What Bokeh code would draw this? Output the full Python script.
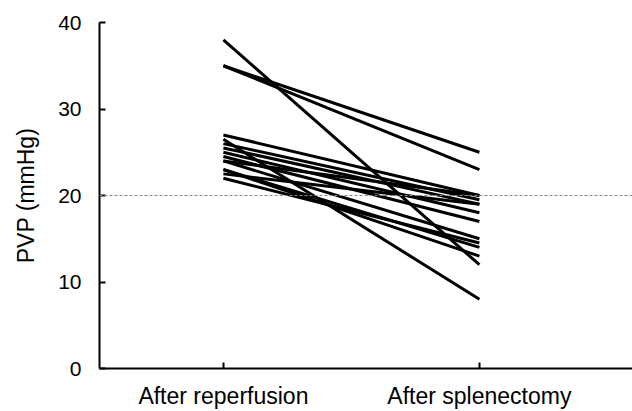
from bokeh.plotting import figure
from bokeh.models import Span, FixedTicker, Range1d, ColumnDataSource
from bokeh.embed import file_html
from bokeh.resources import INLINE

categories = ["After reperfusion", "After splenectomy"]
cat_pos = [1, 2]
ticks_y = [0, 10, 20, 30, 40]
reference_level = 20

after_reperfusion = [38, 35, 35, 27, 26.5, 26, 25.5, 25, 24.5, 24, 24, 23, 23, 22.5, 22]
after_splenectomy = [12, 25, 23, 20, 8, 19.5, 19, 18, 17, 15, 20, 14, 13, 19, 14.5]

xs = [[cat_pos[0], cat_pos[1]] for _ in after_reperfusion]
ys = [[a, b] for a, b in zip(after_reperfusion, after_splenectomy)]
src = ColumnDataSource(dict(xs=xs, ys=ys))

p = figure(width=632, height=411, output_backend="svg", toolbar_location=None,
           x_range=Range1d(0.516, 2.598), y_range=Range1d(0, 40),
           min_border_left=99, min_border_right=0, min_border_top=22, min_border_bottom=43)
p.outline_line_color = None
p.xgrid.visible = False
p.ygrid.visible = False

p.add_layout(Span(location=reference_level, dimension="width", line_color="#888888",
                  line_width=1, line_dash="3 2"))

p.multi_line("xs", "ys", source=src, line_color="black", line_width=3)

font = "Liberation Sans"
for ax in (p.xaxis[0], p.yaxis[0]):
    ax.axis_line_width = 2
    ax.axis_line_color = "black"
    ax.major_tick_line_width = 2
    ax.major_tick_in = 6
    ax.major_tick_out = 0
    ax.minor_tick_line_color = None
    ax.major_label_text_font = font
    ax.major_label_text_color = "black"

p.xaxis.ticker = FixedTicker(ticks=cat_pos)
p.xaxis.major_label_overrides = {cat_pos[i]: categories[i] for i in range(2)}
p.xaxis.major_label_text_font_size = "23px"
p.xaxis.major_label_standoff = 14
p.yaxis.ticker = FixedTicker(ticks=ticks_y)
p.yaxis.major_label_text_font_size = "21px"
p.yaxis.major_label_standoff = 18
p.yaxis.axis_label = "PVP (mmHg)"
p.yaxis.axis_label_text_font = font
p.yaxis.axis_label_text_font_style = "normal"
p.yaxis.axis_label_text_font_size = "23px"
p.yaxis.axis_label_text_color = "black"
p.yaxis.axis_label_standoff = 16

open("out.html", "w").write(file_html(p, INLINE))
